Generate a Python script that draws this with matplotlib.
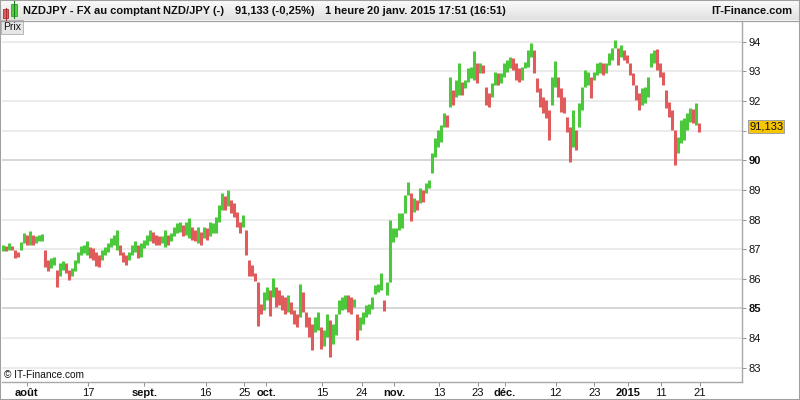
import matplotlib
matplotlib.use('Agg')
import matplotlib.pyplot as plt
import numpy as np
from matplotlib.patches import Rectangle
from matplotlib.lines import Line2D

plt.rcParams['font.family'] = ['Liberation Sans', 'DejaVu Sans']

# ---- data (one bar every ~3 pixels, low / high) ----
low = [86.95, 86.93, 86.98, 86.98, 86.70, 86.75, 86.98, 87.20, 87.15, 87.15,
       87.15, 87.20, 87.26, 87.28, 86.41, 86.25, 86.36, 86.47, 85.74, 86.08,
       86.30, 86.19, 85.96, 86.08, 86.25, 86.53, 86.80, 86.86, 86.80, 86.69,
       86.64, 86.44, 86.39, 86.64, 86.81, 86.92, 87.09, 87.14, 86.98, 86.81,
       86.58, 86.47, 86.64, 86.81, 86.92, 86.69, 86.75, 87.03, 87.14, 87.26,
       87.20, 87.14, 87.14, 87.20, 87.09, 87.14, 87.26, 87.43, 87.54, 87.59,
       87.43, 87.48, 87.37, 87.31, 87.26, 87.20, 87.14, 87.37, 87.31, 87.43,
       87.54, 87.54, 87.93, 88.33, 88.33, 88.44, 88.21, 88.10, 87.76, 87.54,
       87.76, 86.81, 86.08, 86.08, 85.91, 84.40, 84.82, 84.94, 85.28, 84.75,
       85.40, 85.05, 85.11, 84.94, 84.82, 84.88, 84.82, 84.49, 84.37, 84.71,
       84.88, 84.37, 84.03, 83.61, 84.20, 84.26, 83.64, 83.75, 84.03, 83.36,
       83.81, 84.09, 84.82, 84.94, 84.99, 84.88, 84.82, 85.05, 83.94, 84.26,
       84.49, 84.71, 84.82, 84.99, 85.50, 85.55, 85.61, 84.93, 85.44, 85.89,
       87.25, 87.42, 87.64, 87.70, 88.21, 88.83, 87.96, 88.27, 88.32, 88.55,
       88.60, 88.89, 89.05, 89.56, 90.12, 90.46, 90.63, 91.13, 91.13, 91.81,
       91.86, 92.14, 92.20, 92.20, 92.43, 92.65, 92.76, 92.71, 92.59, 92.93,
       92.93, 91.86, 91.81, 92.14, 92.54, 92.54, 92.59, 92.82, 92.99, 93.10,
       93.04, 92.71, 92.65, 92.71, 93.10, 93.16, 93.49, 92.93, 92.31, 91.81,
       91.58, 91.41, 90.68, 91.86, 92.48, 92.14, 91.64, 91.58, 90.96, 89.95,
       90.46, 90.34, 91.13, 91.69, 92.48, 92.54, 92.09, 92.71, 92.88, 92.93,
       92.88, 92.93, 93.21, 93.38, 93.78, 93.21, 93.49, 93.38, 93.27, 92.88,
       92.54, 92.03, 91.69, 91.86, 91.92, 92.14, 93.16, 93.27, 93.04, 92.82,
       92.54, 91.75, 91.47, 91.02, 89.84, 90.23, 90.57, 90.68, 91.02, 91.30,
       91.24, 91.19, 90.96]
high = [87.15, 87.12, 87.22, 87.12, 86.98, 86.92, 87.25, 87.54, 87.48, 87.60,
        87.48, 87.43, 87.48, 87.51, 86.98, 86.64, 86.70, 86.75, 86.30, 86.53,
        86.59, 86.53, 86.30, 86.36, 86.64, 86.92, 87.11, 87.15, 87.28, 87.09,
        87.03, 86.92, 86.81, 86.98, 87.09, 87.20, 87.37, 87.48, 87.65, 87.14,
        86.92, 86.81, 86.92, 87.14, 87.26, 87.14, 87.20, 87.31, 87.48, 87.65,
        87.59, 87.48, 87.43, 87.45, 87.65, 87.48, 87.54, 87.76, 87.88, 87.93,
        87.82, 87.93, 88.04, 87.76, 87.65, 87.76, 87.59, 87.76, 87.71, 87.93,
        87.88, 88.10, 88.49, 88.89, 88.78, 89.00, 88.66, 88.55, 88.27, 87.93,
        88.16, 87.65, 86.64, 86.47, 86.19, 85.90, 85.16, 85.56, 85.73, 85.61,
        86.04, 85.73, 85.61, 85.44, 85.39, 85.44, 85.22, 84.94, 84.82, 85.82,
        85.56, 84.88, 84.71, 84.49, 84.71, 84.88, 84.37, 84.26, 84.82, 84.60,
        84.49, 84.82, 85.28, 85.39, 85.44, 85.44, 85.39, 85.33, 84.82, 84.71,
        84.88, 85.11, 85.16, 85.38, 85.78, 85.84, 86.18, 85.27, 85.89, 87.98,
        87.70, 87.70, 88.21, 88.21, 88.83, 89.28, 88.89, 88.72, 88.66, 89.06,
        89.00, 89.23, 89.35, 90.23, 90.74, 91.02, 91.19, 91.58, 91.53, 92.82,
        92.37, 92.71, 93.27, 92.65, 92.71, 93.10, 93.16, 93.70, 93.27, 93.27,
        93.21, 92.48, 92.26, 92.59, 92.99, 92.93, 92.93, 93.27, 93.38, 93.49,
        93.44, 93.27, 93.10, 93.16, 93.33, 93.72, 93.97, 93.72, 92.76, 92.43,
        92.14, 92.03, 91.69, 92.82, 93.35, 92.82, 92.43, 92.14, 91.47, 91.13,
        91.69, 91.02, 91.92, 92.48, 93.04, 92.99, 92.82, 92.99, 93.27, 93.33,
        93.27, 93.27, 93.61, 93.78, 94.06, 93.78, 93.89, 93.72, 93.55, 93.27,
        92.93, 92.54, 92.26, 92.43, 92.48, 92.82, 93.61, 93.72, 93.74, 93.27,
        92.99, 92.37, 91.97, 91.69, 91.02, 90.79, 91.36, 91.41, 91.58, 91.75,
        91.72, 91.92, 91.24]
last_price = 91.133

# date ticks (position in bar index units) and labels
tick_pos = [7.9, 28.43, 47.1, 67.57, 80.43, 87.67, 106.43, 119.57, 130.33,
            145.33, 158.23, 167.33, 184.23, 197.1, 208.23, 219.33, 232.33]
tick_labels = ['août', '17', 'sept.', '16', '25', 'oct.', '15', '24', 'nov.',
               '13', '23', 'déc.', '12', '23', '2015', '11', '21']
bold_labels = {'août', 'sept.', 'oct.', 'nov.', 'déc.', '2015'}
y_ticks = list(range(83, 95))
bold_y = {85, 90}
hidden_y = {91}   # covered by the last-price label

title_parts = [('NZDJPY - FX au comptant', 23), ('NZD/JPY (-)', 163),
               ('91,133 (-0,25%)', 235), ('1 heure', 325),
               ('20 janv. 2015 17:51 (16:51)', 367)]

W, H = 800, 400
def fx(px):
    return px / W
def fy(py):
    return 1 - py / H

fig = plt.figure(figsize=(8, 4), dpi=100)
fig.patch.set_facecolor('white')

# header bar
axh = fig.add_axes([0, fy(20.5), 1, 20.5 / H])
grad = np.linspace(0.99, 0.88, 40).reshape(-1, 1)
axh.imshow(np.dstack([grad, grad, grad]), aspect='auto', extent=(0, 1, 0, 1))
axh.axis('off')
fig.add_artist(Line2D([0, 1], [fy(20.5)] * 2, transform=fig.transFigure,
                      color='#a0a0a0', lw=0.9))
for txt, px in title_parts:
    fig.text(fx(px), fy(11), txt, fontsize=8, weight='bold', va='center',
             ha='left', color='#101010')
fig.text(fx(792), fy(11), 'IT-Finance.com', fontsize=8, weight='bold',
         va='center', ha='right', color='#101010')
# small candle icon
fig.add_artist(Line2D([fx(5.5)] * 2, [fy(8), fy(20)], transform=fig.transFigure,
                      color='#b03030', lw=0.8))
fig.add_artist(Rectangle((fx(3), fy(17.5)), 5 / W, 8 / H, transform=fig.transFigure,
                         facecolor='#e06060', edgecolor='#a03030', lw=0.6))
fig.add_artist(Line2D([fx(14)] * 2, [fy(1), fy(18)], transform=fig.transFigure,
                      color='#208020', lw=0.8))
fig.add_artist(Rectangle((fx(11), fy(16)), 6 / W, 12 / H, transform=fig.transFigure,
                         facecolor='#50d040', edgecolor='#30a030', lw=0.6))

# main axes
ax = fig.add_axes([fx(2), fy(381.7), 740 / W, (381.7 - 21) / H])
ax.set_facecolor('white')
x = np.arange(len(low))
lo = np.array(low)
hi = np.array(high)
mid = (lo + hi) / 2
up = np.concatenate([[True], mid[1:] >= mid[:-1]])
colors = np.where(up, '#4cc83c', '#e05c5c')
ax.vlines(x, lo, hi, colors=colors, linewidth=2.2, zorder=3)

ax.set_xlim(-1 / 3, 246.33)
ax.set_ylim(82.529, 94.698)

for v in y_ticks:
    ax.axhline(v, color='#d0d0d0' if v in bold_y else '#e8e8e8', lw=1.2, zorder=1)

ax.yaxis.tick_right()
ax.set_yticks(y_ticks)
ax.set_yticklabels(['' if v in hidden_y else str(v) for v in y_ticks])
for lab, v in zip(ax.get_yticklabels(), y_ticks):
    if v in bold_y:
        lab.set_fontweight('bold')
        lab.set_fontsize(9)
ax.tick_params(axis='y', length=3, width=0.7, color='#909090', pad=2,
               labelsize=8, labelcolor='#101010')

ax.set_xticks(tick_pos)
ax.set_xticklabels(tick_labels)
for lab, t in zip(ax.get_xticklabels(), tick_labels):
    if t in bold_labels:
        lab.set_fontweight('bold')
        lab.set_fontsize(8.5)
ax.tick_params(axis='x', length=3, width=0.7, color='#909090', pad=1.5,
               labelsize=8, labelcolor='#101010')

for s in ['left', 'top']:
    ax.spines[s].set_visible(False)
for s in ['right', 'bottom']:
    ax.spines[s].set_color('#a8a8a8')
    ax.spines[s].set_linewidth(1.0)

ax.text(0.003, 0.006, '© IT-Finance.com', transform=ax.transAxes, fontsize=7.3,
        va='bottom', ha='left', color='#101010')

# "Prix" label
ax.text(0.0015, 0.9975, 'Prix', transform=ax.transAxes, fontsize=7.5, va='top',
        ha='left', color='#101010',
        bbox=dict(boxstyle='square,pad=0.18', fc='#e6e6e6', ec='#b8b8b8', lw=0.7))

# last price label
ax.text(1 + 7 / 740, last_price, f'{last_price:.3f}'.replace('.', ','),
        transform=ax.get_yaxis_transform(), fontsize=8, va='center', ha='left',
        color='#101010', clip_on=False,
        bbox=dict(boxstyle='square,pad=0.12', fc='#f7c600', ec='#a0a0a0', lw=0.7))

fig.add_artist(Rectangle((0, 0), 1, 1, transform=fig.transFigure, fill=False,
                         edgecolor='#a0a0a0', lw=1.5))

fig.savefig('out.png', dpi=100)
